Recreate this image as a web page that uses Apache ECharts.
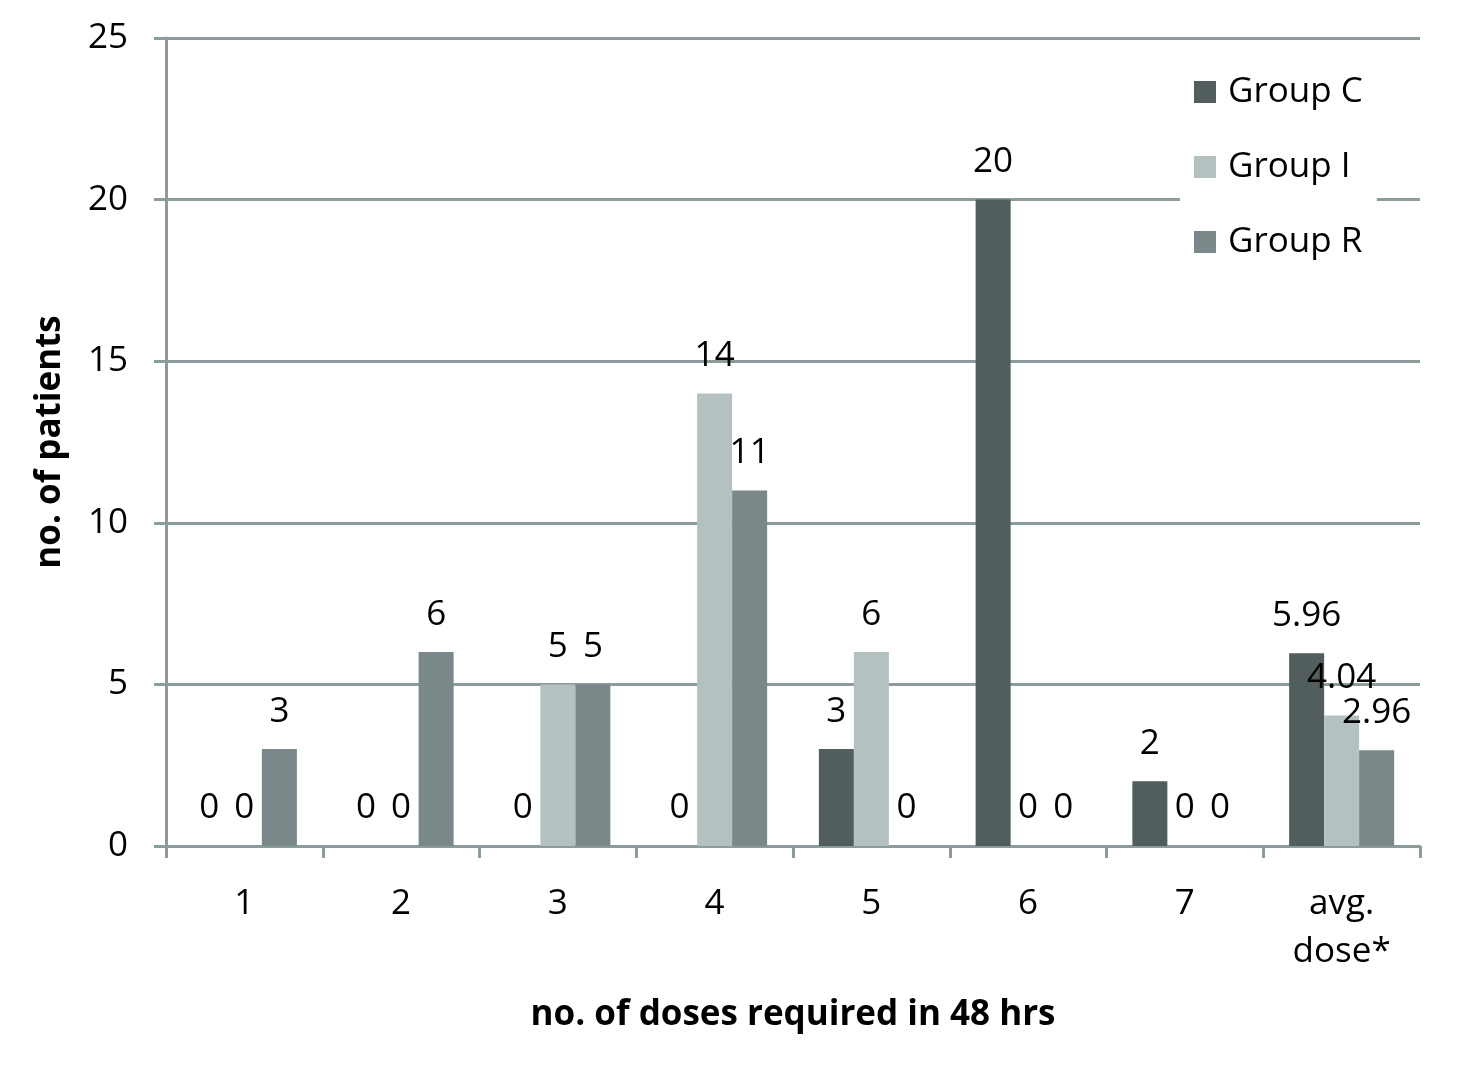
<!DOCTYPE html>
<html><head><meta charset="utf-8">
<script src="https://cdn.jsdelivr.net/npm/echarts@6/dist/echarts.min.js"></script>
<style>html,body{margin:0;padding:0;background:#fff}#c{width:1460px;height:1068px}</style>
</head><body><div id="c"></div>
<script>
const categories = ['1','2','3','4','5','6','7','avg.\ndose*'];
const groupC = [0,0,0,0,3,20,2,5.96];
const groupI = [0,0,5,14,6,0,0,4.04];
const groupR = [3,6,5,11,0,0,0,2.96];
const yTicks = [0,5,10,15,20,25];

const FONT = '"Open Sans", sans-serif';
const FS = 35;
const axisColor = '#8c9b9b';
const lbl = {show:true, position:'top', distance:20, color:'#000', fontSize:FS, fontFamily:FONT};
const chart = echarts.init(document.getElementById('c'));
chart.setOption({
  animation:false,
  textStyle:{fontFamily:FONT},
  grid:{left:166, right:40, top:38, bottom:222},
  legend:{
    orient:'vertical', left:1180, top:72, itemGap:39,
    itemWidth:22, itemHeight:22, icon:'rect',
    backgroundColor:'#fff', padding:[2,14,2,14],
    textStyle:{fontSize:FS, lineHeight:36, color:'#000', fontFamily:FONT, padding:[0,0,0,7]},
    data:['Group C','Group I','Group R']
  },
  xAxis:{
    type:'category', data:categories,
    name:'no. of doses required in 48 hrs', nameLocation:'middle', nameGap:152,
    nameTextStyle:{fontSize:FS, fontWeight:'bold', color:'#000', fontFamily:FONT},
    axisLine:{lineStyle:{color:axisColor, width:3}},
    axisTick:{show:true, length:12, lineStyle:{color:axisColor, width:3}},
    axisLabel:{fontSize:FS, color:'#000', margin:34, lineHeight:48, fontFamily:FONT}
  },
  yAxis:{
    type:'value', min:yTicks[0], max:yTicks[yTicks.length-1], interval:5,
    name:'no. of patients', nameLocation:'middle', nameGap:98, nameRotate:90,
    nameTextStyle:{fontSize:FS, fontWeight:'bold', color:'#000', fontFamily:FONT},
    axisLine:{show:true, lineStyle:{color:axisColor, width:3}},
    axisTick:{show:true, length:12, lineStyle:{color:axisColor, width:3}},
    splitLine:{lineStyle:{color:axisColor, width:3}},
    axisLabel:{fontSize:FS, color:'#000', margin:38, fontFamily:FONT}
  },
  series:[
    {name:'Group C', type:'bar', data:groupC, barGap:'0%', barCategoryGap:'33%', itemStyle:{color:'#525e5e'}, label:lbl},
    {name:'Group I', type:'bar', data:groupI, itemStyle:{color:'#b5c0c0'}, label:lbl},
    {name:'Group R', type:'bar', data:groupR, itemStyle:{color:'#7a8889'}, label:lbl}
  ]
});
</script></body></html>
